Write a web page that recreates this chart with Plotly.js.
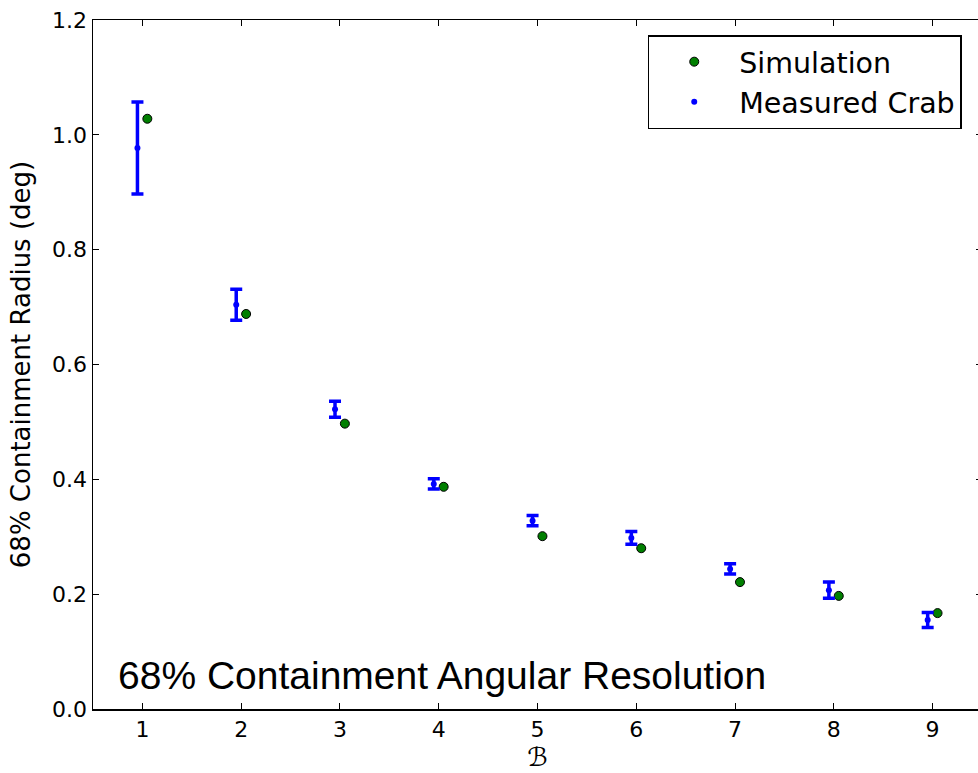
<!DOCTYPE html>
<html><head><meta charset="utf-8">
<script src="https://cdn.plot.ly/plotly-3.0.1.min.js"></script>
<style>html,body{margin:0;padding:0;overflow:hidden;background:#fff;width:978px;height:773px}</style>
</head><body><div id="chart"></div>
<script>
const bins = [1,2,3,4,5,6,7,8,9];
const simulation = [1.028,0.688,0.497,0.387,0.301,0.280,0.221,0.197,0.167];
const measured = [0.977,0.704,0.522,0.392,0.328,0.298,0.244,0.207,0.155];
const measuredErr = [0.080,0.027,0.014,0.009,0.009,0.011,0.009,0.014,0.013];
const offset = 0.05;

const traces = [
  {x: bins.map(b=>b+offset), y: simulation, mode:'markers', type:'scatter', name:'Simulation',
   marker:{color:'#007f00', size:9, line:{color:'#000', width:1}}},
  {x: bins.map(b=>b-offset), y: measured, mode:'markers', type:'scatter', name:'Measured Crab',
   marker:{color:'#0000ff', size:6},
   error_y:{type:'data', array: measuredErr, visible:true, color:'#0000ff', thickness:3.5, width:6}}
];
const layout = {
  width:990, height:773,
  margin:{l:93, r:8, t:20, b:64},
  paper_bgcolor:'#fff', plot_bgcolor:'#fff',
  font: {family:'DejaVu Sans', size:22, color:'#000'},
  showlegend:true,
  legend:{x:0.624, y:0.978, xanchor:'left', yanchor:'top', bordercolor:'#000', borderwidth:1.5,
    font:{family:'DejaVu Sans', size:28.5}, bgcolor:'#fff', itemwidth:80, tracegroupgap:4},
  xaxis:{range:[0.5,9.5], tickvals:bins, ticktext:bins.map(String), ticks:'inside', ticklen:6, tickcolor:'#000',
    showline:true, linecolor:'#000', linewidth:1.5, mirror:'ticks', showgrid:false, zeroline:false,
    tickfont:{family:'DejaVu Sans', size:22},
    title:{text:'<i>ℬ</i>', font:{family:'DejaVu Sans', size:26}, standoff:6}},
  yaxis:{range:[0,1.2], tickvals:[0,0.2,0.4,0.6,0.8,1.0,1.2], ticktext:['0.0','0.2','0.4','0.6','0.8','1.0','1.2'],
    ticks:'inside', ticklen:6, tickcolor:'#000',
    showline:true, linecolor:'#000', linewidth:1.5, mirror:'ticks', showgrid:false, zeroline:false,
    tickfont:{family:'DejaVu Sans', size:22},
    title:{text:'68% Containment Radius (deg)', font:{family:'DejaVu Sans', size:26}, standoff:14}},
  annotations:[{xref:'paper', yref:'paper', x:0.026, y:0.049, xanchor:'left', yanchor:'middle', showarrow:false,
    text:'68% Containment Angular Resolution', font:{family:'Liberation Sans', size:39, color:'#000'}}]
};
Plotly.newPlot('chart', traces, layout, {displayModeBar:false, staticPlot:true});
</script></body></html>
